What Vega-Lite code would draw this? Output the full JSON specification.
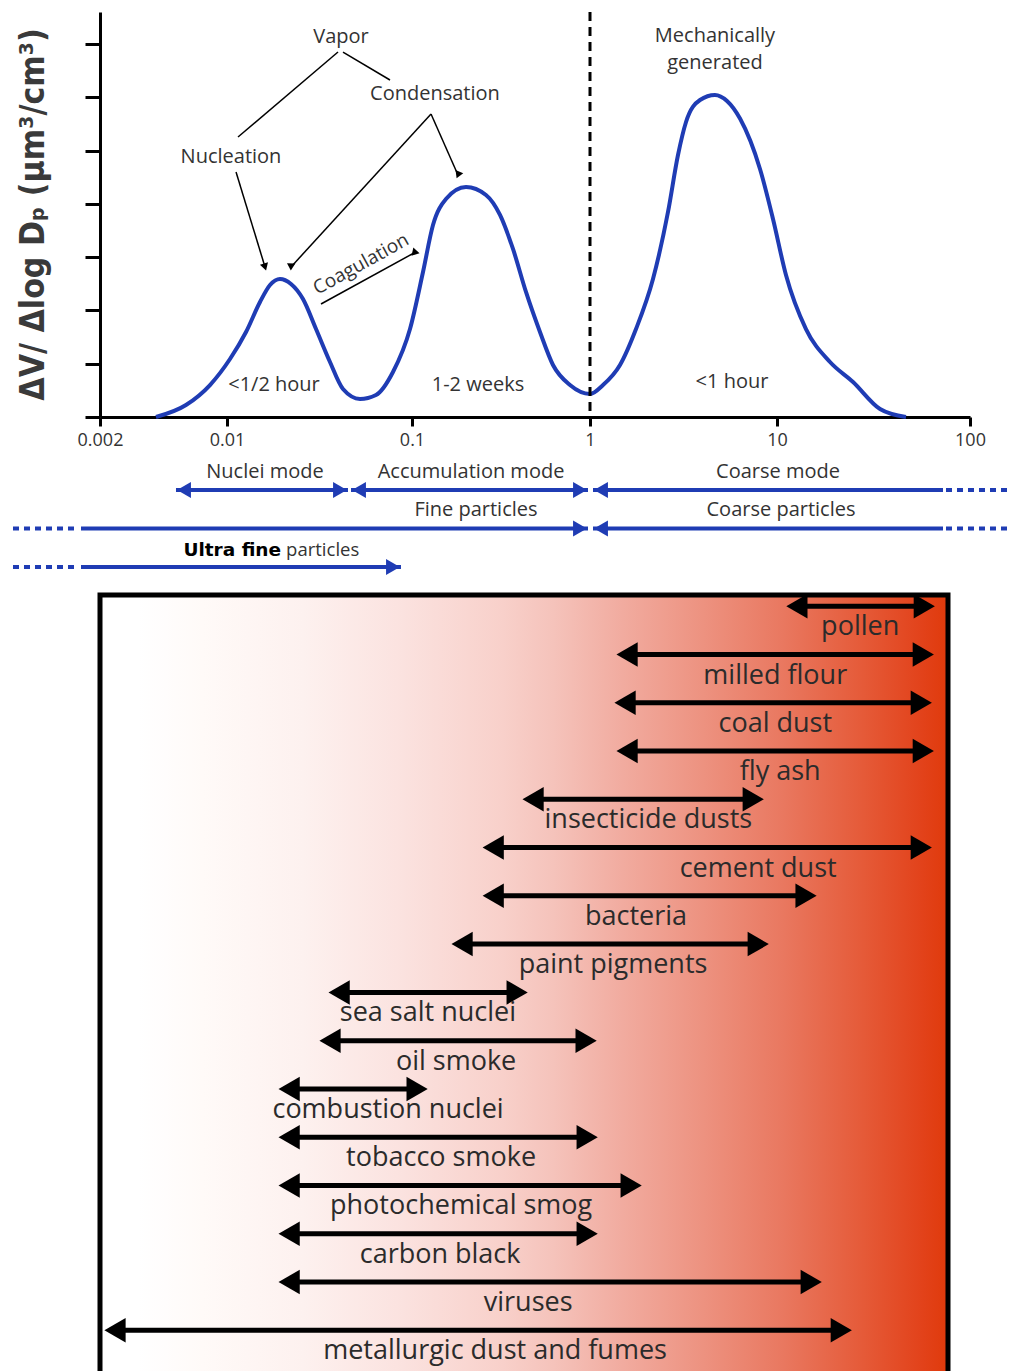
{
  "$schema": "https://vega.github.io/schema/vega-lite/v6.json",
  "background": "white",
  "padding": {"left": 10, "top": 10, "right": 0, "bottom": 0},
  "config": {"view": {"stroke": null}, "font": "Open Sans"},
  "bounds": "flush",
  "spacing": 20,
  "resolve": {"scale": {"x": "independent", "y": "independent"}},
  "datasets": {
    "curve": [
      {"size_um": 0.004065, "dv": 0},
      {"size_um": 0.005946, "dv": 0.225},
      {"size_um": 0.008062, "dv": 0.6},
      {"size_um": 0.01038, "dv": 1.088},
      {"size_um": 0.01267, "dv": 1.595},
      {"size_um": 0.01508, "dv": 2.158},
      {"size_um": 0.01708, "dv": 2.477},
      {"size_um": 0.01934, "dv": 2.59},
      {"size_um": 0.02218, "dv": 2.496},
      {"size_um": 0.02575, "dv": 2.214},
      {"size_um": 0.03028, "dv": 1.651},
      {"size_um": 0.03603, "dv": 1.032},
      {"size_um": 0.04236, "dv": 0.525},
      {"size_um": 0.05235, "dv": 0.338},
      {"size_um": 0.06388, "dv": 0.413},
      {"size_um": 0.07891, "dv": 0.844},
      {"size_um": 0.09754, "dv": 1.651},
      {"size_um": 0.1153, "dv": 2.721},
      {"size_um": 0.1312, "dv": 3.603},
      {"size_um": 0.1552, "dv": 4.091},
      {"size_um": 0.2011, "dv": 4.316},
      {"size_um": 0.2604, "dv": 4.166},
      {"size_um": 0.3122, "dv": 3.791},
      {"size_um": 0.3693, "dv": 3.153},
      {"size_um": 0.4369, "dv": 2.346},
      {"size_um": 0.5236, "dv": 1.595},
      {"size_um": 0.6196, "dv": 0.976},
      {"size_um": 0.7718, "dv": 0.6},
      {"size_um": 1.0, "dv": 0.432},
      {"size_um": 1.174, "dv": 0.6},
      {"size_um": 1.447, "dv": 0.976},
      {"size_um": 1.762, "dv": 1.651},
      {"size_um": 2.172, "dv": 2.59},
      {"size_um": 2.613, "dv": 3.847},
      {"size_um": 2.955, "dv": 4.916},
      {"size_um": 3.262, "dv": 5.536},
      {"size_um": 3.875, "dv": 5.949},
      {"size_um": 4.66, "dv": 6.043},
      {"size_um": 5.404, "dv": 5.93},
      {"size_um": 6.341, "dv": 5.6},
      {"size_um": 8.111, "dv": 4.654},
      {"size_um": 9.519, "dv": 3.716},
      {"size_um": 11.13, "dv": 2.665},
      {"size_um": 14.13, "dv": 1.651},
      {"size_um": 18.82, "dv": 1.032},
      {"size_um": 24.77, "dv": 0.657},
      {"size_um": 34.18, "dv": 0.15},
      {"size_um": 46.6, "dv": 0}
    ],
    "divide": [{"size_um": 1}],
    "links": [
      {"id": "vapor-nuc", "x1": 0.03981, "y1": 6.849, "x2": 0.01147, "y2": 5.254, "arrow": false},
      {"id": "vapor-cond", "x1": 0.04236, "y1": 6.849, "x2": 0.07603, "y2": 6.324, "arrow": false},
      {"id": "nuc", "x1": 0.01119, "y1": 4.597, "x2": 0.01605, "y2": 2.815, "arrow": true},
      {"id": "cond-nuc", "x1": 0.1279, "y1": 5.686, "x2": 0.02218, "y2": 2.815, "arrow": true},
      {"id": "cond-acc", "x1": 0.1279, "y1": 5.686, "x2": 0.1813, "y2": 4.541, "arrow": true},
      {"id": "coag", "x1": 0.03222, "y1": 2.121, "x2": 0.1026, "y2": 3.078, "arrow": true}
    ],
    "notes": [
      {"text": "Vapor", "x": 0.04132, "y": 7.131},
      {"text": "Condensation", "x": 0.1346, "y": 6.061},
      {"text": "Nucleation", "x": 0.01051, "y": 4.879},
      {"text": "Mechanically\ngenerated", "x": 4.66, "y": 7.15},
      {"text": "<1/2 hour", "x": 0.01795, "y": 0.6},
      {"text": "1-2 weeks", "x": 0.2348, "y": 0.6},
      {"text": "<1 hour", "x": 5.746, "y": 0.657}
    ],
    "coag": [{"text": "Coagulation", "x": 0.05301, "y": 2.871}],
    "modes": [
      {"row": 1, "from": 0.005239, "to": 0.04508, "head_from": true, "head_to": true},
      {"row": 1, "from": 0.04681, "to": 0.9745, "head_from": true, "head_to": true},
      {"row": 1, "from": 1.0376, "to": 72.46, "head_from": true, "head_to": false},
      {"row": 2, "from": 0.001572, "to": 0.9745, "head_from": false, "head_to": true},
      {"row": 2, "from": 1.0376, "to": 72.46, "head_from": true, "head_to": false},
      {"row": 3, "from": 0.001572, "to": 0.08718, "head_from": false, "head_to": true}
    ],
    "mode_ext": [
      {"row": 1, "from": 75.1, "to": 169},
      {"row": 2, "from": 0.000664, "to": 0.001513},
      {"row": 2, "from": 75.1, "to": 169},
      {"row": 3, "from": 0.000664, "to": 0.001513}
    ],
    "mode_labels": [
      {"text": "Nuclei mode", "row": 1, "x": 0.01605},
      {"text": "Accumulation mode", "row": 1, "x": 0.2146},
      {"text": "Coarse mode", "row": 1, "x": 10.12},
      {"text": "Fine particles", "row": 2, "x": 0.2288},
      {"text": "Coarse particles", "row": 2, "x": 10.49}
    ],
    "ultra": [{"bold": "Ultra fine", "rest": "particles", "row": 3, "x": 0.0201}],
    "box": [{"from": 0.002, "to": 76}],
    "sources": [
      {"row": 1, "name": "pollen", "lo": 10.0, "hi": 65.7, "label_at": 25.5},
      {"row": 2, "name": "milled flour", "lo": 1.21, "hi": 64.9, "label_at": 8.87},
      {"row": 3, "name": "coal dust", "lo": 1.18, "hi": 63.3, "label_at": 8.87},
      {"row": 4, "name": "fly ash", "lo": 1.21, "hi": 64.9, "label_at": 9.43},
      {"row": 5, "name": "insecticide dusts", "lo": 0.376, "hi": 7.83, "label_at": 1.83},
      {"row": 6, "name": "cement dust", "lo": 0.229, "hi": 63.3, "label_at": 7.17},
      {"row": 7, "name": "bacteria", "lo": 0.229, "hi": 15.1, "label_at": 1.57},
      {"row": 8, "name": "paint pigments", "lo": 0.1555, "hi": 8.33, "label_at": 1.18},
      {"row": 9, "name": "sea salt nuclei", "lo": 0.0337, "hi": 0.4156, "label_at": 0.118},
      {"row": 10, "name": "oil smoke", "lo": 0.0301, "hi": 0.98, "label_at": 0.1676},
      {"row": 11, "name": "combustion nuclei", "lo": 0.0181, "hi": 0.1198, "label_at": 0.0719},
      {"row": 12, "name": "tobacco smoke", "lo": 0.0181, "hi": 0.993, "label_at": 0.139},
      {"row": 13, "name": "photochemical smog", "lo": 0.0181, "hi": 1.716, "label_at": 0.1784},
      {"row": 14, "name": "carbon black", "lo": 0.0181, "hi": 0.993, "label_at": 0.1373},
      {"row": 15, "name": "viruses", "lo": 0.0181, "hi": 16.1, "label_at": 0.4106},
      {"row": 16, "name": "metallurgic dust and fumes", "lo": 0.002076, "hi": 23.4, "label_at": 0.272}
    ]
  },
  "vconcat": [
    {
      "width": 870,
      "height": 405,
      "resolve": {"scale": {"x": "shared", "y": "shared"}, "axis": {"x": "shared", "y": "shared"}},
      "layer": [
        {
          "data": {"name": "curve"},
          "mark": {"type": "line", "color": "#1f3cb4", "strokeWidth": 4, "interpolate": "monotone"},
          "encoding": {
            "x": {"field": "size_um", "type": "quantitative",
                  "scale": {"type": "log", "domain": [0.002, 0.01, 0.1, 1, 10, 100], "range": [0, 127, 312, 490, 677, 870], "nice": false},
                  "axis": {"values": [0.002, 0.01, 0.1, 1, 10, 100], "labelExpr": "'' + datum.value", "title": null, "grid": false,
                           "domainColor": "black", "domainWidth": 3, "tickColor": "black", "tickWidth": 3, "tickSize": 9,
                           "labelFont": "Open Sans", "labelFontSize": 18, "labelColor": "#333333", "labelPadding": 5, "labelFlush": false}},
            "y": {"field": "dv", "type": "quantitative",
                  "scale": {"domain": [0, 7.6], "nice": false, "zero": false},
                  "axis": {"values": [0, 1, 2, 3, 4, 5, 6, 7], "labels": false, "grid": false, "tickSize": 15, "tickWidth": 3,
                           "domainWidth": 3, "domainColor": "black", "tickColor": "black",
                           "title": "ΔV/ Δlog Dₚ (μm³/cm³)", "titleFont": "DejaVu Sans Condensed, Liberation Sans Narrow, DejaVu Sans",
                           "titleFontSize": 33.5, "titleFontWeight": "bold", "titleColor": "#3a3a3a",
                           "titleX": -67, "titleY": 202, "titleAlign": "center", "titleBaseline": "middle", "titleAngle": -90}}
          }
        },
        {
          "data": {"name": "divide"},
          "mark": {"type": "rule", "color": "black", "strokeWidth": 3, "strokeDash": [9, 6]},
          "encoding": {
            "x": {"field": "size_um", "type": "quantitative",
                  "scale": {"type": "log", "domain": [0.002, 0.01, 0.1, 1, 10, 100], "range": [0, 127, 312, 490, 677, 870], "nice": false}}
          }
        },
        {
          "data": {"name": "links"},
          "mark": {"type": "rule", "color": "black", "strokeWidth": 1.5},
          "encoding": {
            "x": {"field": "x1", "type": "quantitative",
                  "scale": {"type": "log", "domain": [0.002, 0.01, 0.1, 1, 10, 100], "range": [0, 127, 312, 490, 677, 870], "nice": false}},
            "x2": {"field": "x2"},
            "y": {"field": "y1", "type": "quantitative", "scale": {"domain": [0, 7.6], "nice": false, "zero": false}},
            "y2": {"field": "y2"}
          }
        },
        {
          "data": {"name": "links"},
          "transform": [{"filter": "datum.arrow"}],
          "mark": {"type": "point", "shape": "triangle-up", "filled": true, "color": "black", "size": 70, "opacity": 1},
          "encoding": {
            "x": {"field": "x2", "type": "quantitative",
                  "scale": {"type": "log", "domain": [0.002, 0.01, 0.1, 1, 10, 100], "range": [0, 127, 312, 490, 677, 870], "nice": false}},
            "y": {"field": "y2", "type": "quantitative", "scale": {"domain": [0, 7.6], "nice": false, "zero": false}},
            "angle": {"field": "id", "type": "nominal", "legend": null,
                      "scale": {"domain": ["nuc", "cond-nuc", "cond-acc", "coag"], "range": [163, 222.5, 157.7, 61.3]}}
          }
        },
        {
          "data": {"name": "notes"},
          "mark": {"type": "text", "font": "Open Sans", "fontSize": 20, "color": "#333333", "align": "center", "baseline": "middle", "lineBreak": "\n", "lineHeight": 27},
          "encoding": {
            "x": {"field": "x", "type": "quantitative",
                  "scale": {"type": "log", "domain": [0.002, 0.01, 0.1, 1, 10, 100], "range": [0, 127, 312, 490, 677, 870], "nice": false}},
            "y": {"field": "y", "type": "quantitative", "scale": {"domain": [0, 7.6], "nice": false, "zero": false}},
            "text": {"field": "text"}
          }
        },
        {
          "data": {"name": "coag"},
          "mark": {"type": "text", "font": "Open Sans", "fontSize": 19, "color": "#333333", "align": "center", "baseline": "middle", "angle": 331},
          "encoding": {
            "x": {"field": "x", "type": "quantitative",
                  "scale": {"type": "log", "domain": [0.002, 0.01, 0.1, 1, 10, 100], "range": [0, 127, 312, 490, 677, 870], "nice": false}},
            "y": {"field": "y", "type": "quantitative", "scale": {"domain": [0, 7.6], "nice": false, "zero": false}},
            "text": {"field": "text"}
          }
        }
      ]
    },
    {
      "width": 870,
      "height": 138,
      "resolve": {"scale": {"x": "shared", "y": "shared"}},
      "layer": [
        {
          "data": {"name": "modes"},
          "mark": {"type": "rule", "color": "#1f3cb4", "strokeWidth": 4},
          "encoding": {
            "x": {"field": "from", "type": "quantitative", "axis": null,
                  "scale": {"type": "log", "domain": [0.002, 0.01, 0.1, 1, 10, 100], "range": [0, 127, 312, 490, 677, 870], "nice": false}},
            "x2": {"field": "to"},
            "y": {"field": "row", "type": "quantitative", "axis": null, "scale": {"domain": [-0.377, 3.21], "reverse": true, "nice": false, "zero": false}}
          }
        },
        {
          "data": {"name": "mode_ext"},
          "mark": {"type": "rule", "color": "#1f3cb4", "strokeWidth": 4, "strokeDash": [6, 5]},
          "encoding": {
            "x": {"field": "from", "type": "quantitative", "axis": null,
                  "scale": {"type": "log", "domain": [0.002, 0.01, 0.1, 1, 10, 100], "range": [0, 127, 312, 490, 677, 870], "nice": false}},
            "x2": {"field": "to"},
            "y": {"field": "row", "type": "quantitative", "axis": null, "scale": {"domain": [-0.377, 3.21], "reverse": true, "nice": false, "zero": false}}
          }
        },
        {
          "data": {"name": "modes"},
          "transform": [{"filter": "datum.head_from"}],
          "mark": {"type": "point", "shape": "triangle-left", "filled": true, "color": "#1f3cb4", "size": 256, "opacity": 1, "xOffset": 8},
          "encoding": {
            "x": {"field": "from", "type": "quantitative", "axis": null,
                  "scale": {"type": "log", "domain": [0.002, 0.01, 0.1, 1, 10, 100], "range": [0, 127, 312, 490, 677, 870], "nice": false}},
            "y": {"field": "row", "type": "quantitative", "axis": null, "scale": {"domain": [-0.377, 3.21], "reverse": true, "nice": false, "zero": false}}
          }
        },
        {
          "data": {"name": "modes"},
          "transform": [{"filter": "datum.head_to"}],
          "mark": {"type": "point", "shape": "triangle-right", "filled": true, "color": "#1f3cb4", "size": 256, "opacity": 1, "xOffset": -8},
          "encoding": {
            "x": {"field": "to", "type": "quantitative", "axis": null,
                  "scale": {"type": "log", "domain": [0.002, 0.01, 0.1, 1, 10, 100], "range": [0, 127, 312, 490, 677, 870], "nice": false}},
            "y": {"field": "row", "type": "quantitative", "axis": null, "scale": {"domain": [-0.377, 3.21], "reverse": true, "nice": false, "zero": false}}
          }
        },
        {
          "data": {"name": "mode_labels"},
          "mark": {"type": "text", "font": "Open Sans", "fontSize": 20, "color": "#333333", "align": "center", "baseline": "middle", "dy": -18},
          "encoding": {
            "x": {"field": "x", "type": "quantitative", "axis": null,
                  "scale": {"type": "log", "domain": [0.002, 0.01, 0.1, 1, 10, 100], "range": [0, 127, 312, 490, 677, 870], "nice": false}},
            "y": {"field": "row", "type": "quantitative", "axis": null, "scale": {"domain": [-0.377, 3.21], "reverse": true, "nice": false, "zero": false}},
            "text": {"field": "text"}
          }
        },
        {
          "data": {"name": "ultra"},
          "mark": {"type": "text", "font": "DejaVu Sans", "fontWeight": "bold", "fontSize": 18.5, "color": "black", "align": "right", "baseline": "middle", "dy": -17, "dx": -2},
          "encoding": {
            "x": {"field": "x", "type": "quantitative", "axis": null,
                  "scale": {"type": "log", "domain": [0.002, 0.01, 0.1, 1, 10, 100], "range": [0, 127, 312, 490, 677, 870], "nice": false}},
            "y": {"field": "row", "type": "quantitative", "axis": null, "scale": {"domain": [-0.377, 3.21], "reverse": true, "nice": false, "zero": false}},
            "text": {"field": "bold"}
          }
        },
        {
          "data": {"name": "ultra"},
          "mark": {"type": "text", "font": "Open Sans", "fontSize": 18.5, "color": "#333333", "align": "left", "baseline": "middle", "dy": -17, "dx": 3},
          "encoding": {
            "x": {"field": "x", "type": "quantitative", "axis": null,
                  "scale": {"type": "log", "domain": [0.002, 0.01, 0.1, 1, 10, 100], "range": [0, 127, 312, 490, 677, 870], "nice": false}},
            "y": {"field": "row", "type": "quantitative", "axis": null, "scale": {"domain": [-0.377, 3.21], "reverse": true, "nice": false, "zero": false}},
            "text": {"field": "rest"}
          }
        }
      ]
    },
    {
      "width": 848,
      "height": 780,
      "resolve": {"scale": {"x": "shared", "y": "shared"}},
      "layer": [
        {
          "data": {"name": "box"},
          "mark": {"type": "rect", "color": {"gradient": "linear", "x1": 0, "y1": 0, "x2": 1, "y2": 0,
            "stops": [
              {"offset": 0, "color": "#ffffff"},
              {"offset": 0.045, "color": "#ffffff"},
              {"offset": 0.121, "color": "#fffaf8"},
              {"offset": 0.239, "color": "#fdf1ef"},
              {"offset": 0.357, "color": "#fbe2df"},
              {"offset": 0.475, "color": "#f8d0ca"},
              {"offset": 0.534, "color": "#f5c3bb"},
              {"offset": 0.617, "color": "#f1ab9f"},
              {"offset": 0.711, "color": "#ed9280"},
              {"offset": 0.805, "color": "#e97860"},
              {"offset": 0.9, "color": "#e55a38"},
              {"offset": 0.97, "color": "#e2421a"},
              {"offset": 1, "color": "#e03a0b"}
            ]}},
          "encoding": {
            "x": {"field": "from", "type": "quantitative", "axis": null, "scale": {"type": "log", "domain": [0.002, 76], "nice": false}},
            "x2": {"field": "to"}
          }
        },
        {
          "data": {"name": "sources"},
          "mark": {"type": "rule", "color": "black", "strokeWidth": 5, "xOffset": 12, "x2Offset": -12},
          "encoding": {
            "x": {"field": "lo", "type": "quantitative", "axis": null, "scale": {"type": "log", "domain": [0.002, 76], "nice": false}},
            "x2": {"field": "hi"},
            "y": {"field": "row", "type": "quantitative", "axis": null, "scale": {"domain": [0.767, 16.927], "reverse": true, "nice": false, "zero": false}}
          }
        },
        {
          "data": {"name": "sources"},
          "mark": {"type": "point", "shape": "triangle-left", "filled": true, "color": "black", "size": 600, "opacity": 1, "xOffset": 12},
          "encoding": {
            "x": {"field": "lo", "type": "quantitative", "axis": null, "scale": {"type": "log", "domain": [0.002, 76], "nice": false}},
            "y": {"field": "row", "type": "quantitative", "axis": null, "scale": {"domain": [0.767, 16.927], "reverse": true, "nice": false, "zero": false}}
          }
        },
        {
          "data": {"name": "sources"},
          "mark": {"type": "point", "shape": "triangle-right", "filled": true, "color": "black", "size": 600, "opacity": 1, "xOffset": -12},
          "encoding": {
            "x": {"field": "hi", "type": "quantitative", "axis": null, "scale": {"type": "log", "domain": [0.002, 76], "nice": false}},
            "y": {"field": "row", "type": "quantitative", "axis": null, "scale": {"domain": [0.767, 16.927], "reverse": true, "nice": false, "zero": false}}
          }
        },
        {
          "data": {"name": "sources"},
          "mark": {"type": "text", "font": "Open Sans", "fontSize": 27, "color": "#2b2b2b", "align": "center", "baseline": "middle", "dy": 21},
          "encoding": {
            "x": {"field": "label_at", "type": "quantitative", "axis": null, "scale": {"type": "log", "domain": [0.002, 76], "nice": false}},
            "y": {"field": "row", "type": "quantitative", "axis": null, "scale": {"domain": [0.767, 16.927], "reverse": true, "nice": false, "zero": false}},
            "text": {"field": "name"}
          }
        },
        {
          "data": {"name": "box"},
          "mark": {"type": "rect", "filled": false, "color": "black", "strokeWidth": 5},
          "encoding": {
            "x": {"field": "from", "type": "quantitative", "axis": null, "scale": {"type": "log", "domain": [0.002, 76], "nice": false}},
            "x2": {"field": "to"}
          }
        }
      ]
    }
  ]
}
